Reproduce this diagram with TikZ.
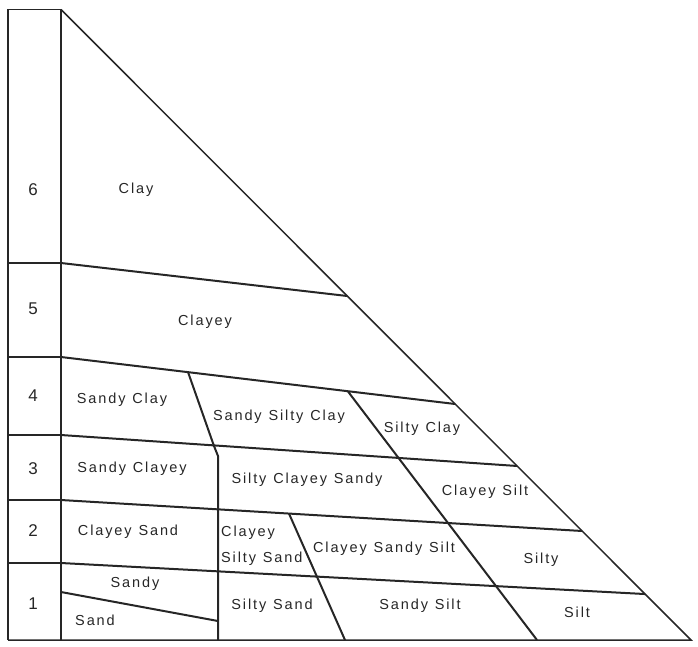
\documentclass[tikz,border=0pt]{standalone}
\usepackage{fontspec}
\setmainfont{Liberation Sans}[LetterSpace=13,WordSpace=1.15]
\usetikzlibrary{calc}
\begin{document}
\begin{tikzpicture}[x=1pt,y=-1pt,
  frame/.style={draw=black!85,line width=1.5pt},
  divider/.style={draw=black!85,line width=2pt,line join=round},
  lbl/.style={inner sep=0pt,text=black!85,font=\fontsize{14.5}{16}\selectfont},
  num/.style={inner sep=0pt,text=black!85,font=\fontsize{17}{19}\selectfont}]
\useasboundingbox (0,0) rectangle (698,646);
% frame
\coordinate (TL) at (8,9.5);
\coordinate (apex) at (61,9.5);
\coordinate (BL) at (8,640);
\coordinate (BC) at (61,640);
\coordinate (BR) at (691,640);
\draw[frame] (BL) -- (TL) -- (apex) -- (BC);
\draw[frame] (BL) -- (BR) -- (apex);
% left column row lines
\foreach \y/\n in {263/a,357/b,435/c,500/d,563/e}{
  \coordinate (L\n) at (61,\y);
  \draw[frame] (8,\y) -- (L\n);
}
% right ends on hypotenuse
\coordinate (Ra) at ($(apex)!0.4544!(BR)$);
\coordinate (Rb) at ($(apex)!0.6257!(BR)$);
\coordinate (Rc) at ($(apex)!0.7240!(BR)$);
\coordinate (Rd) at ($(apex)!0.8271!(BR)$);
\coordinate (Re) at ($(apex)!0.9271!(BR)$);
\foreach \n in {a,b,c,d,e}{\draw[divider] (L\n) -- (R\n);}
% inner dividing lines
\coordinate (v1a) at (188,372);
\coordinate (v1b) at (214,446);
\coordinate (v1c) at (218,456);
\coordinate (v1d) at (218,640);
\draw[divider] (v1a) -- (v1b) -- (v1c) -- (v1d);
\coordinate (v2a) at (348,391.5);
\coordinate (v2b) at (537,640);
\draw[divider] (v2a) -- (v2b);
\coordinate (v3a) at (289,513.6);
\coordinate (v3b) at (345,640);
\draw[divider] (v3a) -- (v3b);
\coordinate (s1) at (61,592);
\coordinate (s2) at (218,621);
\draw[divider] (s1) -- (s2);
% numbers
\node[num] (n6) at (33,190) {6};
\node[num] (n5) at (33,309) {5};
\node[num] (n4) at (33,396) {4};
\node[num] (n3) at (33,469) {3};
\node[num] (n2) at (33,531) {2};
\node[num] (n1) at (33,604) {1};
% labels
\node[lbl] (clay) at (136,190) {Clay};
\node[lbl] (clayey) at (205,322) {Clayey};
\node[lbl] (sc) at (122,400) {Sandy Clay};
\node[lbl] (ssc) at (279,417) {Sandy Silty Clay};
\node[lbl] (sic) at (422,429) {Silty Clay};
\node[lbl] (scy) at (132,469) {Sandy Clayey};
\node[lbl] (scs) at (307,480) {Silty Clayey Sandy};
\node[lbl] (cs) at (485,492) {Clayey Silt};
\node[lbl] (csd) at (128,532) {Clayey Sand};
\node[lbl,anchor=west] (cssa) at (221,533) {Clayey};
\node[lbl,anchor=west] (cssb) at (221,559) {Silty Sand};
\node[lbl] (cssi) at (384,549) {Clayey Sandy Silt};
\node[lbl] (silty) at (541,560) {Silty};
\node[lbl] (sandy) at (135,584) {Sandy};
\node[lbl] (sand) at (95,620) {Sand};
\node[lbl] (sisa) at (272,606) {Silty Sand};
\node[lbl] (sasi) at (420,606) {Sandy Silt};
\node[lbl] (silt) at (577,612) {Silt};
\end{tikzpicture}
\end{document}
